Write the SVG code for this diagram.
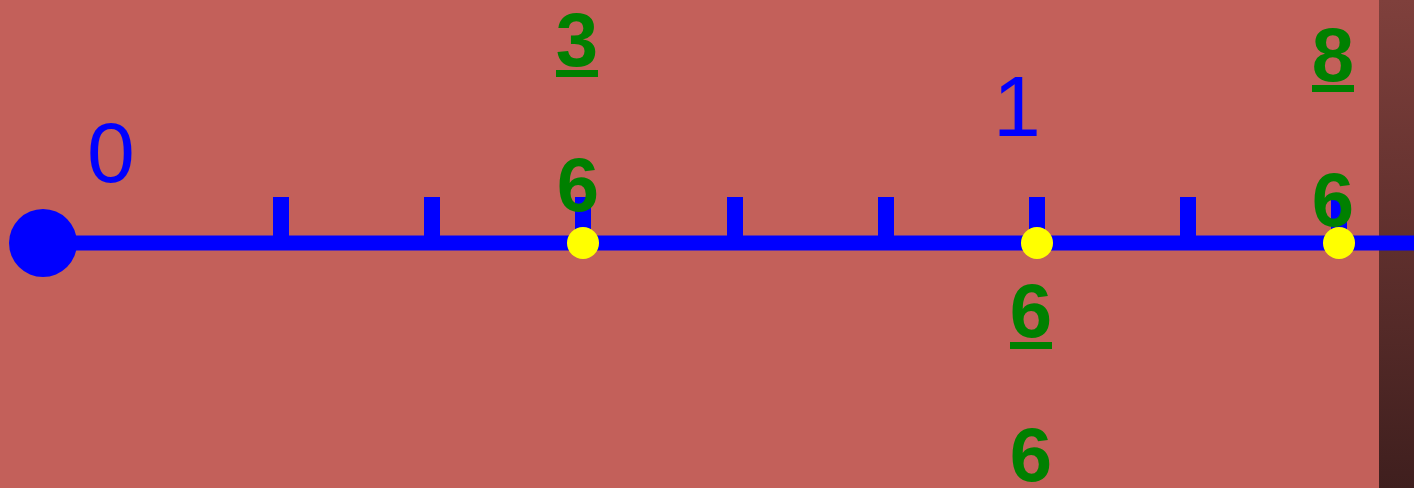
<svg xmlns="http://www.w3.org/2000/svg" width="1414" height="488" viewBox="0 0 1414 488">
<style>
.lbl{font-family:"Liberation Sans",Arial,sans-serif;font-size:86px;fill:#0000ff;text-anchor:middle}
.frac{font-family:"Liberation Sans",Arial,sans-serif;font-size:76px;font-weight:bold;fill:#008000;text-anchor:middle}
.tick{fill:#0000ff}
.bar{fill:#008000}
.dot{fill:#ffff00}
</style>
<defs>
<linearGradient id="shade" x1="0" y1="0" x2="0" y2="1">
<stop offset="0" stop-color="#7f403c"/>
<stop offset="1" stop-color="#3f1f1e"/>
</linearGradient>
</defs>
<rect x="0" y="0" width="1414" height="488" fill="#c3605a"/>
<rect x="1379" y="0" width="35" height="488" fill="url(#shade)"/>
<g id="axis">
<line x1="43" y1="243" x2="1414" y2="243" stroke="#0000ff" stroke-width="15"/>
<circle cx="43" cy="243" r="34" fill="#0000ff"/>
<rect class="tick" x="273" y="197" width="16" height="46"/>
<rect class="tick" x="424" y="197" width="16" height="46"/>
<rect class="tick" x="575" y="197" width="16" height="46"/>
<rect class="tick" x="727" y="197" width="16" height="46"/>
<rect class="tick" x="878" y="197" width="16" height="46"/>
<rect class="tick" x="1029" y="197" width="16" height="46"/>
<rect class="tick" x="1180" y="197" width="16" height="46"/>
<rect class="tick" x="1331" y="197" width="16" height="46"/>
</g>
<g id="label-0"><text class="lbl" x="111" y="182">0</text></g>
<g id="label-1"><text class="lbl" x="1017" y="136">1</text></g>
<g id="frac-3-6">
<text class="frac" x="577" y="66">3</text>
<rect class="bar" x="556" y="70" width="42" height="7"/>
<text class="frac" x="578" y="211">6</text>
<circle class="dot" cx="583" cy="243" r="16"/>
</g>
<g id="frac-6-6">
<text class="frac" x="1031" y="337">6</text>
<rect class="bar" x="1010" y="342" width="42" height="7"/>
<text class="frac" x="1031" y="481">6</text>
<circle class="dot" cx="1037" cy="243" r="16"/>
</g>
<g id="frac-8-6">
<text class="frac" x="1333" y="81">8</text>
<rect class="bar" x="1312" y="85" width="42" height="7"/>
<text class="frac" x="1333" y="226">6</text>
<circle class="dot" cx="1339" cy="243" r="16"/>
</g>
</svg>
